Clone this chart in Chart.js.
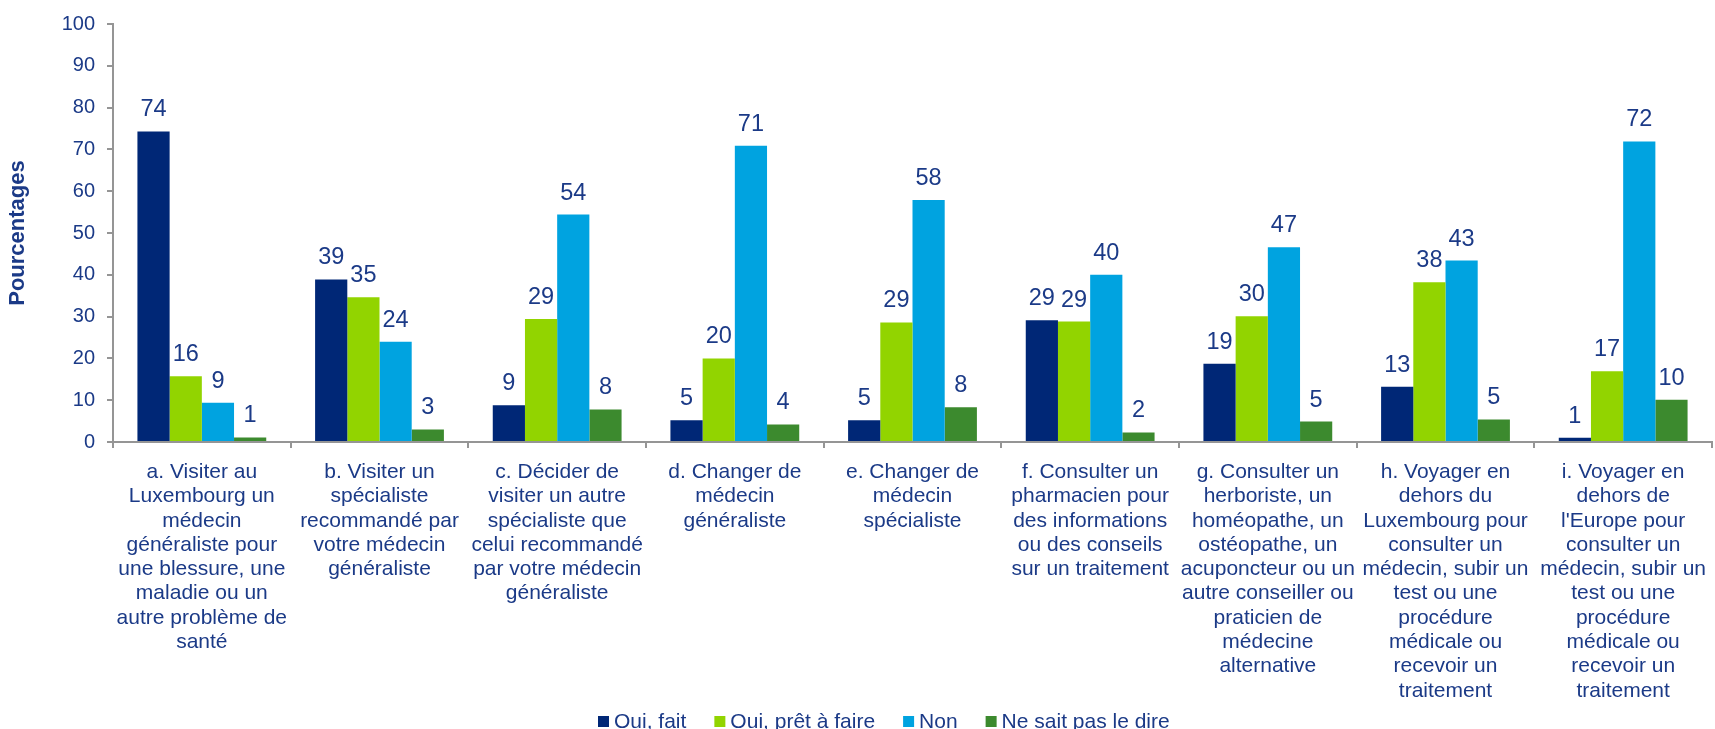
<!DOCTYPE html>
<html lang="fr">
<head>
  <meta charset="UTF-8">
  <title>Pourcentages</title>
  <script src="https://cdn.jsdelivr.net/npm/chart.js"></script>
  <style>
    html, body {
      margin: 0;
      padding: 0;
      background: #fff;
    }
    #wrap {
      width: 1715px;
      height: 729px;
    }
  </style>
</head>
<body>
  <div id="wrap"><canvas id="chart"></canvas></div>

  <script>
    const categories = [
      ['a. Visiter au', 'Luxembourg un', 'médecin', 'généraliste pour', 'une blessure, une', 'maladie ou un', 'autre problème de', 'santé'],
      ['b. Visiter un', 'spécialiste', 'recommandé par', 'votre médecin', 'généraliste'],
      ['c. Décider de', 'visiter un autre', 'spécialiste que', 'celui recommandé', 'par votre médecin', 'généraliste'],
      ['d. Changer de', 'médecin', 'généraliste'],
      ['e. Changer de', 'médecin', 'spécialiste'],
      ['f. Consulter un', 'pharmacien pour', 'des informations', 'ou des conseils', 'sur un traitement'],
      ['g. Consulter un', 'herboriste, un', 'homéopathe, un', 'ostéopathe, un', 'acuponcteur ou un', 'autre conseiller ou', 'praticien de', 'médecine', 'alternative'],
      ['h. Voyager en', 'dehors du', 'Luxembourg pour', 'consulter un', 'médecin, subir un', 'test ou une', 'procédure', 'médicale ou', 'recevoir un', 'traitement'],
      ['i. Voyager en', 'dehors de', "l'Europe pour", 'consulter un', 'médecin, subir un', 'test ou une', 'procédure', 'médicale ou', 'recevoir un', 'traitement']
    ];

    const ouiFait   = [74.3, 38.9, 8.8, 5.2, 5.2, 29.1, 18.7, 13.2, 1.0];
    const ouiPret   = [15.7, 34.6, 29.4, 20.0, 28.6, 28.8, 30.1, 38.2, 16.9];
    const non       = [9.4, 24.0, 54.4, 70.9, 57.9, 40.0, 46.6, 43.4, 71.9];
    const neSaitPas = [1.1, 3.0, 7.8, 4.2, 8.3, 2.3, 4.9, 5.4, 10.1];

    const seriesNames = ['Oui, fait', 'Oui, prêt à faire', 'Non', 'Ne sait pas le dire'];
    const seriesColors = ['#002776', '#92D400', '#00A3E0', '#3C8A2E'];

    const yMin = 0;
    const yMax = 100;
    const yStep = 10;

    const textColor = '#1b3a87';
    const axisColor = '#959595';
    const fontFamily = '"Liberation Sans", Arial, sans-serif';

    // values written above each bar
    const valueLabels = {
      id: 'valueLabels',
      afterDatasetsDraw(chart) {
        const ctx = chart.ctx;
        ctx.save();
        ctx.font = '23.5px ' + fontFamily;
        ctx.fillStyle = textColor;
        ctx.textAlign = 'center';
        ctx.textBaseline = 'alphabetic';
        chart.data.datasets.forEach(function (ds, i) {
          chart.getDatasetMeta(i).data.forEach(function (bar, j) {
            ctx.fillText(String(Math.round(ds.data[j])), bar.x, bar.y - 15);
          });
        });
        ctx.restore();
      }
    };

    // legend along the bottom edge, small square + name
    const bottomLegend = {
      id: 'bottomLegend',
      afterDraw(chart) {
        const ctx = chart.ctx;
        ctx.save();
        ctx.font = '21px ' + fontFamily;
        ctx.textBaseline = 'alphabetic';
        ctx.textAlign = 'left';
        let x = 598;
        const baseline = 727.5;
        chart.data.datasets.forEach(function (ds) {
          ctx.fillStyle = ds.backgroundColor;
          ctx.fillRect(x, baseline - 11.5, 11, 11);
          ctx.fillStyle = textColor;
          ctx.fillText(ds.label, x + 16, baseline);
          x += 16 + ctx.measureText(ds.label).width + 28;
        });
        ctx.restore();
      }
    };

    const datasets = [ouiFait, ouiPret, non, neSaitPas].map(function (values, i) {
      return {
        label: seriesNames[i],
        data: values,
        backgroundColor: seriesColors[i],
        borderWidth: 0,
        categoryPercentage: 0.725,
        barPercentage: 1.0
      };
    });

    new Chart(document.getElementById('chart'), {
      type: 'bar',
      data: {
        labels: categories,
        datasets: datasets
      },
      options: {
        responsive: true,
        maintainAspectRatio: false,
        animation: false,
        layout: {
          padding: { top: 21, right: 3, bottom: 0, left: 0 }
        },
        plugins: {
          legend: { display: false },
          tooltip: { enabled: false }
        },
        scales: {
          x: {
            grid: {
              drawOnChartArea: false,
              drawTicks: true,
              tickLength: 6,
              color: axisColor,
              lineWidth: 2
            },
            border: { color: axisColor, width: 2 },
            ticks: {
              autoSkip: false,
              maxRotation: 0,
              minRotation: 0,
              padding: 12,
              color: textColor,
              font: { family: fontFamily, size: 21, lineHeight: 1.157 }
            },
            afterFit(scale) {
              scale.height = 287;
              // labels may spill a little past the last category, like the original
              scale.paddingRight = 0;
              scale.paddingLeft = 0;
            }
          },
          y: {
            min: yMin,
            max: yMax,
            grid: {
              drawOnChartArea: false,
              drawTicks: true,
              tickLength: 6,
              color: axisColor,
              lineWidth: 2
            },
            border: { color: axisColor, width: 2 },
            ticks: {
              stepSize: yStep,
              padding: 12,
              color: textColor,
              font: { family: fontFamily, size: 20 }
            },
            title: {
              display: true,
              text: 'Pourcentages',
              color: textColor,
              padding: { top: 5, bottom: 0 },
              font: { family: fontFamily, size: 22, weight: 'bold', lineHeight: 1.2 }
            },
            afterFit(scale) {
              scale.width = 113;
            }
          }
        }
      },
      plugins: [valueLabels, bottomLegend]
    });
  </script>
</body>
</html>
